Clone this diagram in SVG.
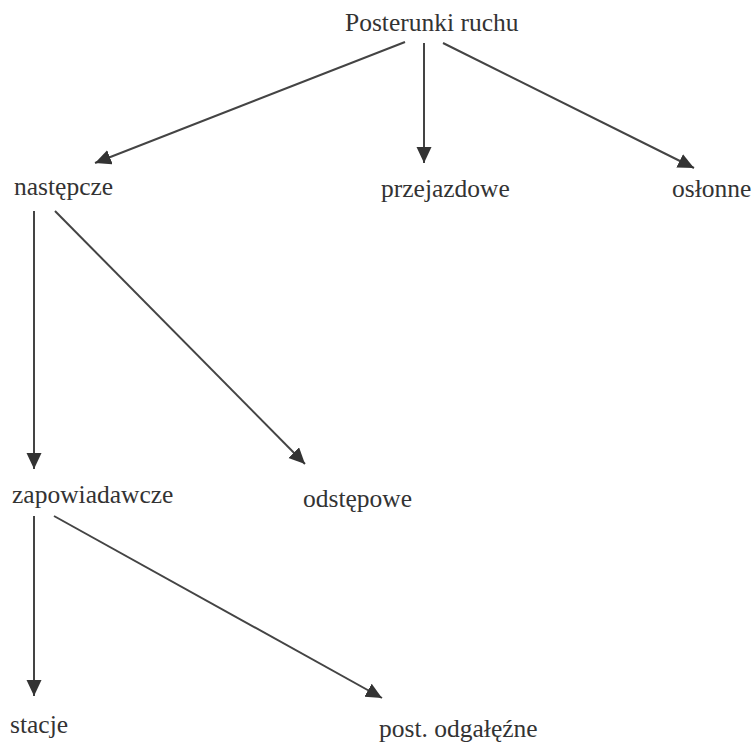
<svg xmlns="http://www.w3.org/2000/svg" width="754" height="743" viewBox="0 0 754 743">
<style>
text{font-family:'Liberation Serif',Tinos,'Times New Roman','DejaVu Serif',serif;font-size:25.5px;fill:#333}
.c line{stroke:#444;stroke-width:2;marker-end:url(#ah)}
</style>
<defs>
<marker id="ah" markerUnits="userSpaceOnUse" markerWidth="18" markerHeight="16" refX="16" refY="7.5" orient="auto">
<path d="M0,0 L16,7.5 L0,15 z" fill="#333"/>
</marker>
</defs>
<rect width="754" height="743" fill="#fff"/>
<g id="n-posterunki"><text x="345" y="31" font-family="Liberation Serif, serif">Posterunki ruchu</text></g>
<g id="n-nastepcze"><text x="14" y="195" font-family="Liberation Serif, serif">następcze</text></g>
<g id="n-przejazdowe"><text x="381" y="197" font-family="Liberation Serif, serif">przejazdowe</text></g>
<g id="n-oslonne"><text x="672" y="197" font-family="Liberation Serif, serif">osłonne</text></g>
<g id="n-zapowiadawcze"><text x="12" y="503" font-family="Liberation Serif, serif">zapowiadawcze</text></g>
<g id="n-odstepowe"><text x="303" y="507" font-family="Liberation Serif, serif">odstępowe</text></g>
<g id="n-stacje"><text x="10" y="733" font-family="Liberation Serif, serif">stacje</text></g>
<g id="n-post"><text x="379" y="737" font-family="Liberation Serif, serif">post. odgałęźne</text></g>
<g class="c" id="connectors">
<line x1="405" y1="42" x2="95" y2="163"/>
<line x1="424" y1="43" x2="424" y2="163"/>
<line x1="443" y1="43" x2="694" y2="168"/>
<line x1="34" y1="211" x2="34" y2="469"/>
<line x1="55" y1="211" x2="305" y2="464"/>
<line x1="34" y1="516" x2="34" y2="696"/>
<line x1="54" y1="516" x2="382" y2="698"/>
</g>
</svg>
